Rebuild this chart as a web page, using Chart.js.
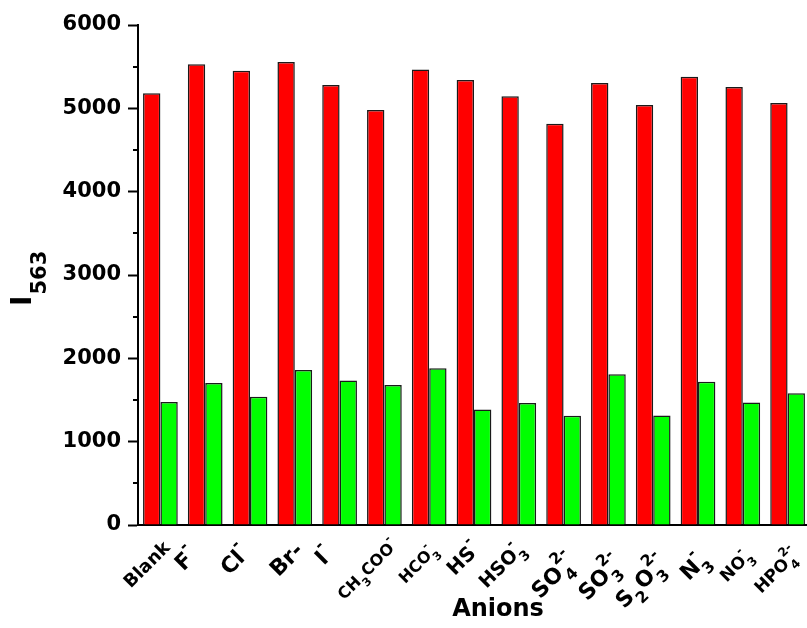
<!DOCTYPE html>
<html>
<head>
<meta charset="utf-8">
<script src="https://cdn.jsdelivr.net/npm/chart.js@4/dist/chart.umd.min.js"></script>
<style>
  html, body { margin: 0; padding: 0; background: #fff; overflow: hidden; }
  canvas { display: block; }
</style>
</head>
<body>
<canvas id="chart" width="810" height="628"></canvas>
<script>
// Anion names, written with _x for subscripts and ^x for superscripts
const anions = ['Blank', 'F^-', 'Cl^-', 'Br-', 'I^-', 'CH_3COO^-', 'HCO_3^-', 'HS^-',
  'HSO_3^-', 'SO_4^{2-}', 'SO_3^{2-}', 'S_2O_3^{2-}', 'N_3^-', 'NO_3^-', 'HPO_4^{2-}'];

// Emission intensity at 563 nm
const intensityRed = [5180, 5530, 5450, 5555, 5280, 4980, 5465, 5340, 5145, 4815, 5305, 5040, 5380, 5255, 5065];
const intensityGreen = [1475, 1705, 1540, 1860, 1735, 1680, 1880, 1385, 1465, 1310, 1810, 1315, 1720, 1470, 1580];

// y axis range and tick steps
const yMin = 0;
const yMax = 6000;
const yMajorStep = 1000;
const yMinorStep = 500;

// axis titles
const xTitle = 'Anions';
const yTitleMain = 'I';
const yTitleSub = '563';

// per-label font size and nudge (px) for the rotated category labels
const labelStyle = [
  { size: 18, dx: 6, dy: 19 },
  { size: 22, dx: -12, dy: 26 },
  { size: 22, dx: -5, dy: 24 },
  { size: 22, dx: 4, dy: 21 },
  { size: 22, dx: -11, dy: 25 },
  { size: 16, dx: 10, dy: 17 },
  { size: 16, dx: 5, dy: 22 },
  { size: 20, dx: 2, dy: 20 },
  { size: 19, dx: 2, dy: 20 },
  { size: 22, dx: 8, dy: 32 },
  { size: 22, dx: 10, dy: 34 },
  { size: 22, dx: 10, dy: 34 },
  { size: 22, dx: 6, dy: 30 },
  { size: 17, dx: 6, dy: 27 },
  { size: 17, dx: 8, dy: 26 }
];

const FONT = '"DejaVu Sans", "Liberation Sans", sans-serif';

function parseRich(s) {
  const parts = [];
  let i = 0;
  while (i < s.length) {
    const ch = s[i];
    if (ch === '_' || ch === '^') {
      let t;
      if (s[i + 1] === '{') {
        const j = s.indexOf('}', i);
        t = s.slice(i + 2, j);
        i = j + 1;
      } else {
        t = s[i + 1];
        i += 2;
      }
      parts.push({ t, kind: ch === '_' ? 'sub' : 'sup' });
    } else {
      let j = i;
      while (j < s.length && s[j] !== '_' && s[j] !== '^') j++;
      parts.push({ t: s.slice(i, j), kind: 'base' });
      i = j;
    }
  }
  return parts;
}

function plainText(s) {
  return parseRich(s).map(p => p.t).join('');
}

// Draws the rotated rich-text category labels, the minor y ticks and the axis titles
const decorations = {
  id: 'decorations',
  afterDraw(chart) {
    const c = chart.ctx;
    const xs = chart.scales.x;
    const ys = chart.scales.y;
    const area = chart.chartArea;
    c.save();
    c.fillStyle = '#000';

    // minor ticks on the y axis
    c.strokeStyle = '#000';
    c.lineWidth = 2;
    for (let v = yMin + yMinorStep; v < yMax; v += yMajorStep) {
      const y = Math.round(ys.getPixelForValue(v));
      c.beginPath();
      c.moveTo(area.left - 5, y);
      c.lineTo(area.left, y);
      c.stroke();
    }

    // category labels
    anions.forEach((lab, i) => {
      const st = labelStyle[i];
      const parts = parseRich(lab);
      const items = [];
      let w = 0;
      let prev = null;
      parts.forEach(p => {
        const size = p.kind === 'base' ? st.size : st.size * 0.72;
        c.font = `bold ${size}px ${FONT}`;
        const tw = c.measureText(p.t).width;
        let x = w;
        if (p.kind === 'sup' && prev && prev.kind === 'sub') x = prev.x;
        const it = { t: p.t, kind: p.kind, size, x, w: tw };
        items.push(it);
        w = Math.max(w, x + tw);
        prev = it;
      });
      const ax = xs.getPixelForValue(i) + st.dx;
      const ay = area.bottom + st.dy;
      const base = 0.36 * st.size;
      c.save();
      c.translate(ax, ay);
      c.rotate(-Math.PI / 4);
      c.textAlign = 'left';
      c.textBaseline = 'alphabetic';
      items.forEach(it => {
        c.font = `bold ${it.size}px ${FONT}`;
        let y = base;
        if (it.kind === 'sub') y = base + 0.42 * st.size;
        if (it.kind === 'sup') y = base - 0.6 * st.size;
        c.fillText(it.t, it.x - w, y);
      });
      c.restore();
    });

    // x axis title
    c.font = `bold 24px ${FONT}`;
    c.textAlign = 'center';
    c.textBaseline = 'middle';
    c.fillText(xTitle, 498, 610);

    // y axis title with subscript
    c.save();
    c.translate(31, 306);
    c.rotate(-Math.PI / 2);
    c.textAlign = 'left';
    c.textBaseline = 'alphabetic';
    c.font = `bold 28px ${FONT}`;
    c.fillText(yTitleMain, 0, 0);
    const iw = c.measureText(yTitleMain).width;
    c.font = `bold 21px ${FONT}`;
    c.fillText(yTitleSub, iw + 1, 15);
    c.restore();

    c.restore();
  }
};

new Chart(document.getElementById('chart'), {
  type: 'bar',
  data: {
    labels: anions.map(plainText),
    datasets: [
      {
        label: 'I563 (red)',
        data: intensityRed,
        backgroundColor: '#ff0000',
        borderColor: '#1a1a1a',
        borderWidth: 1.5,
        borderSkipped: 'start'
      },
      {
        label: 'I563 (green)',
        data: intensityGreen,
        backgroundColor: '#00ff00',
        borderColor: '#1a1a1a',
        borderWidth: 1.5,
        borderSkipped: 'start'
      }
    ]
  },
  options: {
    responsive: false,
    animation: false,
    layout: { padding: { top: 25, right: 0, bottom: 0, left: 0 } },
    plugins: { legend: { display: false }, tooltip: { enabled: false } },
    datasets: { bar: { categoryPercentage: 0.775, barPercentage: 1.0 } },
    scales: {
      x: {
        grid: { display: false },
        border: { display: true, color: '#000', width: 2 },
        ticks: { display: false },
        afterFit(scale) { scale.height = 103; }
      },
      y: {
        min: yMin,
        max: yMax,
        grid: {
          display: true,
          drawOnChartArea: false,
          drawTicks: true,
          tickLength: 10,
          tickWidth: 2,
          tickColor: '#000'
        },
        border: { display: true, color: '#000', width: 2 },
        ticks: {
          stepSize: yMajorStep,
          padding: 7,
          color: '#000',
          font: { family: FONT, size: 21, weight: 'bold' },
          callback: (v) => String(v)
        },
        afterFit(scale) { scale.width = 138; }
      }
    }
  },
  plugins: [decorations]
});
</script>
</body>
</html>
